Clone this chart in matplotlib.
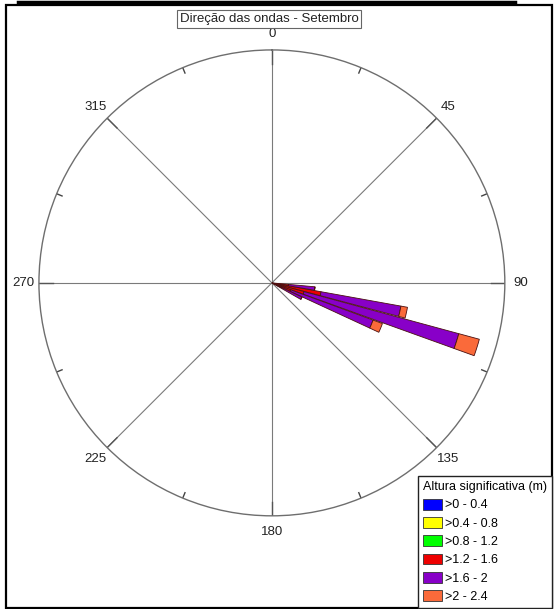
"""
Rosa de ondas - direcao e altura significativa, setembro.
"""

import numpy as np
import matplotlib
matplotlib.use("Agg")
import matplotlib.pyplot as plt
from matplotlib.patches import Patch, Rectangle
from matplotlib.lines import Line2D

plt.rcParams["font.family"] = ["Liberation Sans", "DejaVu Sans"]

# direction bins (degrees, centre of each sector)
directions = [97.5, 102.5, 107.5, 112.5, 117.5]

# frequency (%) per height class, one value per direction bin
h_0_04 = [0.0, 0.0, 0.0, 0.0, 0.0]
h_04_08 = [0.0, 0.0, 0.0, 0.0, 0.0]
h_08_12 = [0.0, 0.0, 0.0, 0.0, 0.0]
h_12_16 = [2.5, 7.5, 5.0, 3.0, 1.0]
h_16_20 = [4.0, 12.2, 24.1, 13.2, 4.0]
h_20_24 = [0.0, 1.0, 3.2, 1.5, 0.0]

classes = [">0 - 0.4", ">0.4 - 0.8", ">0.8 - 1.2", ">1.2 - 1.6", ">1.6 - 2", ">2 - 2.4"]
colors = ["#0000ff", "#ffff00", "#00ff00", "#ee0000", "#8800c8", "#fa6a3a"]

angle_ticks = [0, 45, 90, 135, 180, 225, 270, 315]
r_max = 35.0
bin_width = 4.6

fig = plt.figure(figsize=(5.56, 6.09), dpi=100)
ax = fig.add_axes([0.070, 0.153, 0.838, 0.765], projection="polar")
ax.set_theta_zero_location("N")
ax.set_theta_direction(-1)
ax.set_ylim(0, r_max)

theta = np.deg2rad(directions)
width = np.deg2rad(bin_width)
bottom = np.zeros(len(directions))
for vals, col in zip([h_0_04, h_04_08, h_08_12, h_12_16, h_16_20, h_20_24], colors):
    vals = np.array(vals)
    ax.bar(theta, vals, width=width, bottom=bottom, color=col,
           edgecolor="#4a1010", linewidth=0.6, zorder=3)
    bottom = bottom + vals

# grid: radial lines only, every 45 degrees
ax.set_thetagrids(angle_ticks, [str(a) for a in angle_ticks], fontsize=9.5, color="#222222")
ax.set_yticks([])
ax.grid(True, color="#7a7a7a", linewidth=0.8)
ax.spines["polar"].set_color("#6e6e6e")
ax.spines["polar"].set_linewidth(1.0)
ax.tick_params(axis="x", which="major", pad=4.5, length=0)

# short inward ticks on the rim
for a in angle_ticks:
    t = np.deg2rad(a)
    ax.plot([t, t], [r_max * 0.94, r_max], color="#555555", linewidth=1.0, zorder=2)
for a in np.arange(22.5, 360, 45):
    t = np.deg2rad(a)
    ax.plot([t, t], [r_max * 0.975, r_max], color="#444444", linewidth=1.0, zorder=2)

fig.text(0.484, 0.969, "Direção das ondas - Setembro", ha="center", va="center",
         fontsize=9.5, color="#222222",
         bbox=dict(boxstyle="square,pad=0.2", facecolor="white", edgecolor="#666666", linewidth=0.8))

handles = [Patch(facecolor=c, edgecolor="#333333", linewidth=0.6) for c in colors]
leg = fig.legend(handles, classes, title="Altura significativa (m)", loc="lower right",
                 bbox_to_anchor=(552 / 556, 1 / 609), borderaxespad=0, fontsize=9,
                 title_fontsize=9, alignment="left", handlelength=1.5, handleheight=0.95,
                 handletextpad=0.25, labelspacing=0.45, borderpad=0.4, fancybox=False,
                 framealpha=1)
leg.get_frame().set_edgecolor("#222222")
leg.get_frame().set_linewidth(1.0)

# outer frame of the figure
fig.patches.append(Rectangle((6 / 556, 1 / 609), 546 / 556, 603 / 609, transform=fig.transFigure,
                             fill=False, edgecolor="black", linewidth=1.6))
fig.lines.append(Line2D([18 / 556, 515 / 556], [607.5 / 609, 607.5 / 609], transform=fig.transFigure,
                        color="black", linewidth=2.5))

fig.savefig("out.png", dpi=100)
